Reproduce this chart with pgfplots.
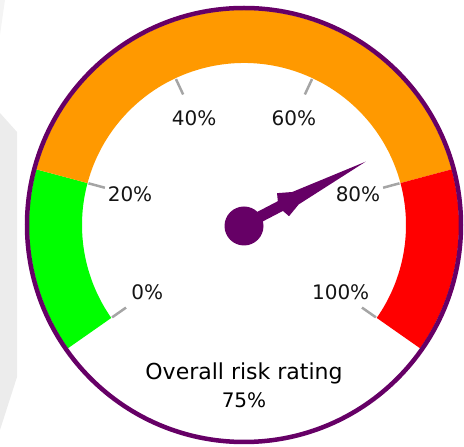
\documentclass[border=0pt]{standalone}
\usepackage{pgfplots}
\pgfplotsset{compat=1.18}
\usepackage{fontspec}
\setmainfont{DejaVu Sans}

\definecolor{gaugepurple}{RGB}{102,0,102}
\definecolor{gaugeorange}{RGB}{255,153,0}
\definecolor{gaugegreen}{RGB}{0,255,0}
\definecolor{gaugered}{RGB}{255,0,0}
\definecolor{tickgray}{RGB}{165,165,165}
\definecolor{panelgray}{RGB}{236,236,236}

% gauge data (percent)
\def\rating{75}
\def\greenTo{20}
\def\redFrom{80}

\begin{document}
\begin{tikzpicture}
\begin{axis}[
  x=1pt, y=1pt,
  xmin=-244, xmax=220, ymin=-222, ymax=225,
  hide axis, clip=false,
]
\coordinate (C) at (axis cs:0,0);

% light panel at the left edge
\fill[panelgray] (axis cs:-244,112) -- (axis cs:-227,93) -- (axis cs:-227,-152)
  -- (axis cs:-244,-205) -- cycle;
\fill[panelgray!60] (axis cs:-244,225) -- (axis cs:-239,225) -- (axis cs:-244,190) -- cycle;

% dial: 0% sits at 215 deg, 100% at -35 deg
\pgfplotsextra{
\begin{scope}[shift={(C)}]
  % coloured ranges
  \foreach \f/\t/\c in {0/\greenTo/gaugegreen, \greenTo/\redFrom/gaugeorange,
                        \redFrom/100/gaugered}{
    \pgfmathsetmacro\af{215-2.5*\f}
    \pgfmathsetmacro\at{215-2.5*\t}
    \fill[\c] (\af:215pt) arc[start angle=\af, end angle=\at, radius=215pt]
      -- (\at:162pt) arc[start angle=\at, end angle=\af, radius=162pt] -- cycle;
  }
  % rim
  \draw[gaugepurple, line width=4.5pt] (0:217pt) arc[start angle=0, end angle=360, radius=217pt];
  % ticks and labels
  \foreach \p in {0,20,40,60,80,100}{
    \pgfmathsetmacro\ap{215-2.5*\p}
    \draw[tickgray, line width=2.5pt] (\ap:161pt) -- (\ap:144pt);
    \node[font=\fontsize{20}{24}\selectfont, text=black!92, inner sep=0pt]
      at (\ap:118pt) {\p\%};
  }
  % needle
  \pgfmathsetmacro\an{215-2.5*\rating}
  \begin{scope}[rotate=\an]
    \fill[gaugepurple] (canvas cs:x=0pt,y=5.5pt) -- (canvas cs:x=41pt,y=5.5pt)
      -- (canvas cs:x=44pt,y=13pt) -- (canvas cs:x=58pt,y=7pt)
      -- (canvas cs:x=137pt,y=0pt) -- (canvas cs:x=58pt,y=-7pt)
      -- (canvas cs:x=44pt,y=-13pt) -- (canvas cs:x=41pt,y=-5.5pt)
      -- (canvas cs:x=0pt,y=-5.5pt) -- cycle;
  \end{scope}
  \fill[gaugepurple] (-90:1pt) ++(0:19.5pt) arc[start angle=0, end angle=360, radius=19.5pt];
  % caption
  \node[font=\fontsize{22}{26}\selectfont, anchor=base, inner sep=0pt, text=black]
    at (-90:155pt) {Overall risk rating};
  \node[font=\fontsize{20}{24}\selectfont, anchor=base, inner sep=0pt, text=black]
    at (-90:183pt) {\rating\%};
\end{scope}
}
\end{axis}
\pgfresetboundingbox
\path[use as bounding box] ([shift={(C)}]-244pt,-222pt) rectangle ([shift={(C)}]220pt,225pt);
\end{tikzpicture}
\end{document}
